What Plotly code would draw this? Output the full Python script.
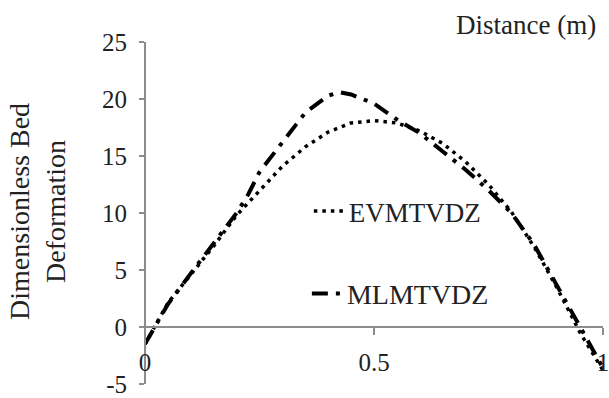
import plotly.graph_objects as go

# Data
evm_x = [0.0, 0.05, 0.10, 0.15, 0.20, 0.25, 0.30, 0.35, 0.40, 0.45, 0.50,
         0.55, 0.60, 0.65, 0.70, 0.75, 0.80, 0.85, 0.90, 0.95, 1.00]
evm_y = [-1.5, 2.1, 4.6, 7.1, 9.8, 12.0, 14.1, 15.8, 17.1, 17.9, 18.1,
         17.9, 17.2, 16.1, 14.5, 12.5, 10.1, 7.0, 3.4, -0.5, -3.8]

mlm_x = [0.0, 0.05, 0.10, 0.15, 0.20, 0.225, 0.25, 0.30, 0.35, 0.40, 0.425, 0.45,
         0.50, 0.55, 0.60, 0.65, 0.70, 0.75, 0.80, 0.85, 0.90, 0.95, 1.00]
mlm_y = [-1.5, 2.0, 4.7, 7.3, 10.0, 11.6, 13.6, 16.2, 18.8, 20.3, 20.6, 20.4,
         19.6, 18.2, 17.0, 15.4, 13.8, 12.0, 10.0, 7.2, 3.6, 0.0, -3.6]

x_ticks = [0, 0.5, 1]
x_tick_text = ["0", "0.5", "1"]
y_ticks = [-5, 0, 5, 10, 15, 20, 25]
y_tick_text = ["-5", "0", "5", "10", "15", "20", "25"]
y_range = [-5, 25]

FONT = "Liberation Serif"
TXT = "#222222"
AX = "#8c8c8c"

fig = go.Figure()
fig.add_trace(go.Scatter(
    x=evm_x, y=evm_y, mode="lines", name="EVMTVDZ",
    line=dict(color="black", width=3.5, dash="3.5px,5px"),
    legend="legend",
))
fig.add_trace(go.Scatter(
    x=mlm_x, y=mlm_y, mode="lines", name="MLMTVDZ",
    line=dict(color="black", width=4, dash="16px,8px,4px,8px"),
    legend="legend2",
))

fig.update_layout(
    width=609, height=398,
    margin=dict(l=145, r=0, t=42, b=11),
    paper_bgcolor="white", plot_bgcolor="white",
    font=dict(family=FONT, color=TXT, size=24),
    showlegend=True,
    legend=dict(x=(311 - 145) / 464, y=(387 - 213) / 345, xanchor="left", yanchor="middle",
                bgcolor="rgba(0,0,0,0)", font=dict(size=27, family=FONT, color=TXT),
                itemwidth=30),
    legend2=dict(x=(309 - 145) / 464, y=(387 - 296) / 345, xanchor="left", yanchor="middle",
                 bgcolor="rgba(0,0,0,0)", font=dict(size=28, family=FONT, color=TXT),
                 itemwidth=30),
    xaxis=dict(
        range=[0, 1], tickvals=x_ticks, ticktext=x_tick_text,
        anchor="free", position=(0 - y_range[0]) / (y_range[1] - y_range[0]),
        showline=True, linecolor=AX, linewidth=2,
        ticks="outside", ticklen=7, tickcolor=AX, tickwidth=2,
        showgrid=False, zeroline=False, ticklabeloverflow="allow",
        ticklabelstandoff=6,
        tickfont=dict(size=25, family=FONT, color=TXT),
    ),
    yaxis=dict(
        range=y_range, tickvals=y_ticks, ticktext=y_tick_text,
        anchor="free", position=0,
        showline=True, linecolor=AX, linewidth=2,
        ticks="outside", ticklen=5, tickcolor=AX, tickwidth=2,
        showgrid=False, zeroline=False, ticklabeloverflow="allow",
        ticklabelstandoff=7,
        tickfont=dict(size=25, family=FONT, color=TXT),
    ),
    annotations=[
        dict(text="Dimensionless Bed<br>Deformation", textangle=-90,
             xref="paper", yref="paper", x=(36 - 145) / 464, y=(387 - 213) / 345,
             xanchor="center", yanchor="middle", showarrow=False,
             font=dict(size=28, family=FONT, color=TXT)),
        dict(text="Distance (m)", xref="paper", yref="paper",
             x=(604 - 145) / 464, y=(387 - 25) / 345,
             xanchor="right", yanchor="middle", showarrow=False,
             font=dict(size=27, family=FONT, color=TXT)),
    ],
)

fig.write_html("out.html")
